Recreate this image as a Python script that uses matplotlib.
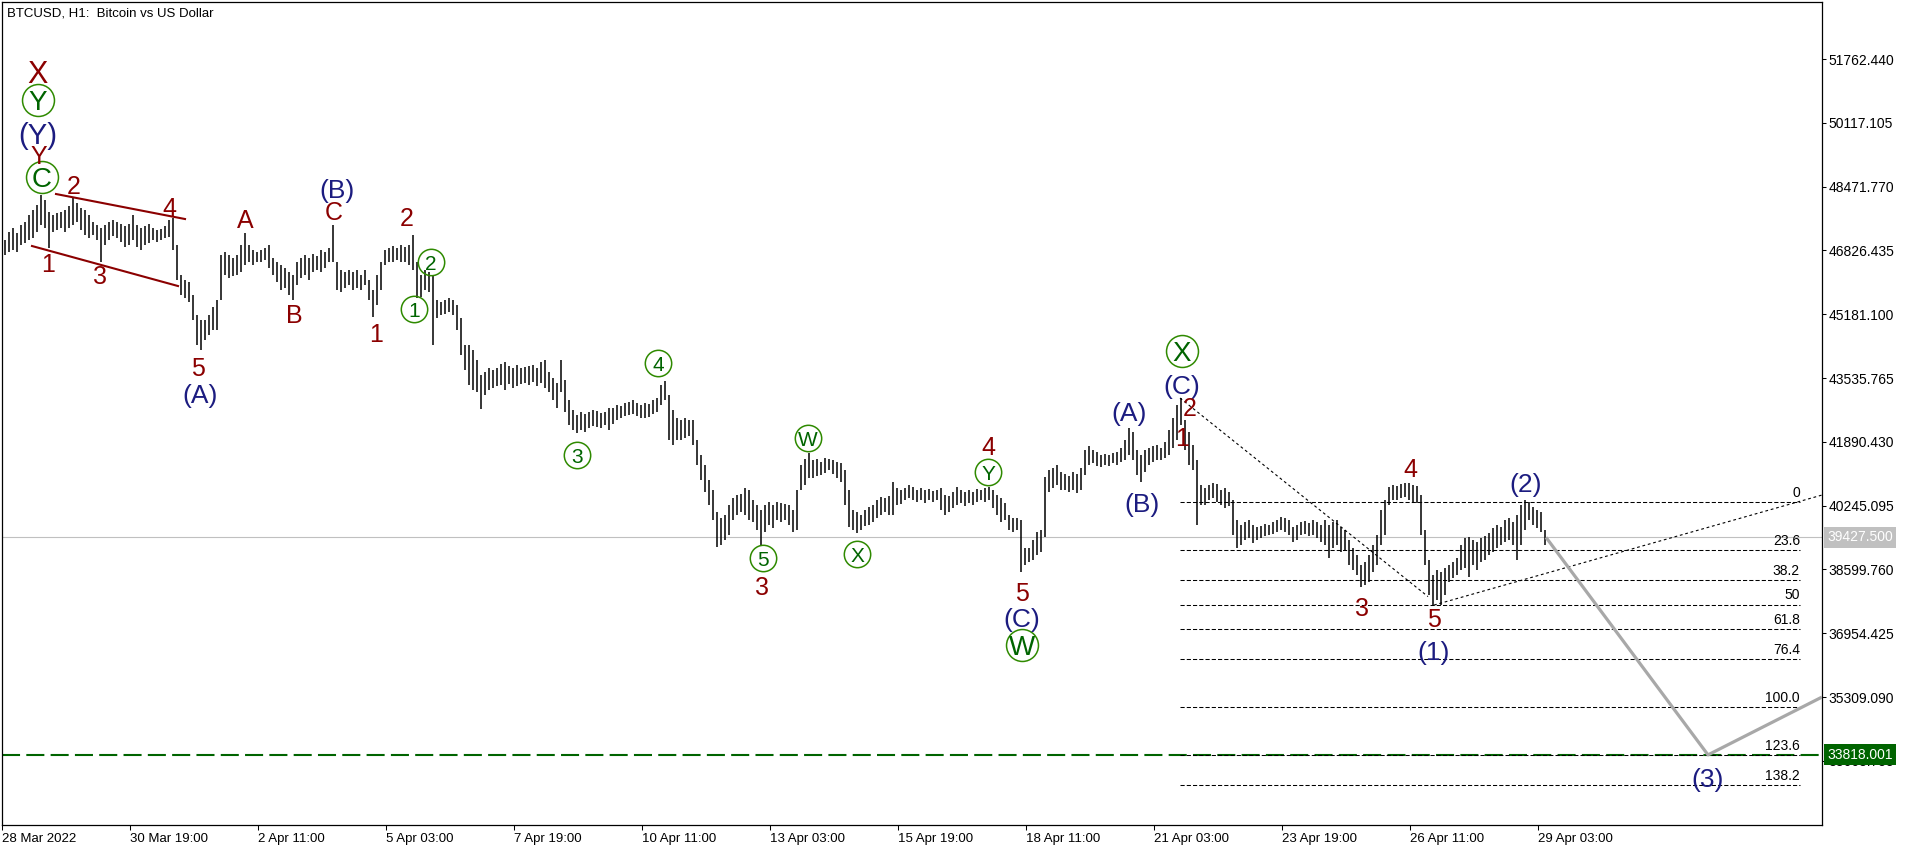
#####################################################################
# BTCUSD H1 - Elliott wave count, bar chart in MetaTrader style     #
#####################################################################
import numpy as np
import pandas as pd
import matplotlib
matplotlib.use('Agg')
from matplotlib import pyplot as plt
from matplotlib import transforms


#######################################################################
# Donnees (barres de 2 heures, prix haut / bas) :
T0 = pd.Timestamp('2022-03-28 00:00')
BAR_START = '2022-03-28 04:00'

highs = [
    47094, 47300, 47404, 47275, 47481, 47558, 47739, 47868, 47997, 48255,
    48126, 47816, 47739, 47791, 47816, 47868, 47971, 48178, 48049, 47920,
    47868, 47739, 47558, 47481, 47404, 47481, 47558, 47610, 47558, 47507,
    47455, 47507, 47739, 47481, 47404, 47455, 47507, 47404, 47352, 47378,
    47455, 47610, 47662, 46965, 46191, 46062, 46010, 45675, 45160, 45031,
    45031, 45160, 45366, 45546, 46707, 46784, 46707, 46630, 46707, 46965,
    47275, 46965, 46836, 46784, 46836, 46888, 46965, 46630, 46526, 46449,
    46372, 46268, 46191, 46526, 46630, 46707, 46630, 46733, 46681, 46836,
    46784, 46888, 47481, 46526, 46320, 46268, 46320, 46268, 46320, 46191,
    46320, 46062, 45804, 46191, 46526, 46836, 46888, 46939, 46888, 46965,
    46913, 46965, 47223, 46526, 46191, 46320, 46268, 46191, 45546, 45494,
    45546, 45598, 45546, 45418, 45083, 44386, 44386, 44257, 43999, 43612,
    43690, 43793, 43741, 43793, 43896, 43947, 43844, 43793, 43870, 43793,
    43818, 43844, 43870, 43793, 43947, 43999, 43690, 43535, 43406, 43999,
    43483, 42968, 42710, 42581, 42658, 42607, 42658, 42710, 42684, 42633,
    42658, 42762, 42762, 42839, 42813, 42891, 42916, 42968, 42891, 42839,
    42891, 42865, 42968, 43020, 43354, 43458, 43097, 42710, 42504, 42452,
    42504, 42452, 42452, 41936, 41549, 41291, 40905, 40647, 40079, 39925,
    40002, 40260, 40441, 40518, 40544, 40699, 40647, 40389, 40260, 40131,
    40260, 40337, 40260, 40337, 40312, 40286, 40260, 40131, 40647, 41291,
    41446, 41601, 41420, 41446, 41368, 41472, 41446, 41420, 41368, 41343,
    41162, 40647, 40131, 40079, 40002, 40131, 40209, 40260, 40389, 40466,
    40441, 40492, 40853, 40699, 40647, 40699, 40776, 40724, 40647, 40699,
    40647, 40673, 40621, 40647, 40699, 40518, 40492, 40595, 40724, 40647,
    40595, 40647, 40595, 40673, 40647, 40699, 40724, 40647, 40518, 40441,
    40312, 40002, 39925, 39925, 39873, 39151, 39151, 39357, 39564, 39615,
    40982, 41162, 41214, 41291, 41111, 41059, 41008, 41111, 41059, 41214,
    41678, 41781, 41678, 41626, 41549, 41575, 41549, 41601, 41626, 41730,
    41936, 42246, 42143, 41678, 41549, 41678, 41730, 41781, 41807, 41730,
    41884, 42194, 42504, 42839, 43020, 42452, 42143, 41807, 41420, 40776,
    40699, 40776, 40827, 40802, 40647, 40699, 40595, 40389, 39873, 39744,
    39822, 39873, 39744, 39693, 39718, 39770, 39744, 39822, 39873, 39951,
    39925, 39873, 39693, 39744, 39822, 39848, 39796, 39873, 39822, 39744,
    39873, 39744, 39822, 39873, 39693, 39615, 39357, 39151, 38970, 38713,
    38790, 38970, 39228, 39486, 40131, 40389, 40724, 40776, 40750, 40802,
    40827, 40827, 40776, 40750, 40518, 39615, 38842, 38455, 38584, 38532,
    38635, 38713, 38790, 38893, 39228, 39409, 39434, 39357, 39306, 39409,
    39460, 39538, 39667, 39744, 39693, 39873, 39925, 39822, 40002, 40260,
    40389, 40337, 40209, 40131, 40079, 39615,
]

lows = [
    46707, 46784, 46836, 46784, 46965, 47017, 47094, 47146, 47300, 47481,
    47404, 46888, 47300, 47352, 47404, 47300, 47404, 47481, 47558, 47352,
    47223, 47146, 47223, 47094, 46526, 46965, 47094, 47197, 47146, 47042,
    46913, 46965, 47094, 46913, 46836, 46965, 47017, 47094, 47042, 47094,
    47146, 47171, 46836, 46062, 45675, 45598, 45494, 45031, 44386, 44257,
    44515, 44644, 44773, 44773, 45546, 46191, 46114, 46165, 46191, 46268,
    46449, 46526, 46449, 46526, 46526, 46578, 46372, 46191, 46010, 45804,
    45856, 45675, 45546, 45933, 46114, 46191, 46062, 46268, 46320, 46268,
    46372, 46526, 46526, 45804, 45752, 45856, 45933, 45804, 45856, 45804,
    45933, 45546, 45108, 45418, 45804, 46449, 46526, 46526, 46578, 46526,
    46526, 46449, 46320, 45598, 45624, 45804, 45752, 44386, 45083, 45160,
    45186, 45237, 45160, 44773, 44128, 43741, 43354, 43226, 43174, 42736,
    43097, 43226, 43277, 43329, 43354, 43226, 43380, 43277, 43329, 43380,
    43406, 43354, 43432, 43329, 43406, 43277, 43174, 42968, 42762, 43174,
    42658, 42323, 42194, 42117, 42194, 42143, 42246, 42297, 42271, 42246,
    42323, 42194, 42349, 42452, 42504, 42555, 42581, 42607, 42555, 42504,
    42504, 42530, 42607, 42658, 42839, 42968, 41936, 41807, 41936, 41936,
    41987, 42039, 41807, 41291, 40905, 40595, 40260, 39873, 39177, 39228,
    39357, 39486, 39873, 40002, 40079, 40002, 39873, 39822, 39615, 39228,
    39564, 39744, 39667, 39873, 39822, 39873, 39744, 39564, 39615, 40647,
    40776, 40957, 40957, 41008, 41034, 41085, 41162, 41059, 40957, 40853,
    40260, 39693, 39615, 39538, 39615, 39718, 39744, 39822, 39925, 40002,
    40079, 40002, 40002, 40260, 40286, 40389, 40441, 40389, 40337, 40389,
    40312, 40389, 40337, 40389, 40131, 40002, 40079, 40183, 40260, 40312,
    40234, 40312, 40260, 40337, 40389, 40337, 40389, 40183, 40002, 39822,
    39873, 39615, 39564, 39615, 38532, 38713, 38790, 38842, 38970, 39048,
    39434, 40595, 40699, 40776, 40647, 40647, 40595, 40647, 40570, 40647,
    41034, 41291, 41343, 41265, 41240, 41291, 41265, 41343, 41291, 41368,
    41420, 41549, 41420, 41034, 40853, 41111, 41291, 41368, 41420, 41420,
    41472, 41549, 41730, 41936, 42323, 41678, 41291, 41162, 39744, 40260,
    40260, 40389, 40441, 40337, 40260, 40183, 40234, 39486, 39151, 39228,
    39357, 39409, 39280, 39357, 39409, 39460, 39486, 39512, 39564, 39615,
    39564, 39486, 39306, 39357, 39486, 39512, 39460, 39486, 39409, 39306,
    39228, 38893, 39151, 39228, 39048, 39099, 38713, 38584, 38455, 38145,
    38197, 38274, 38532, 38713, 39228, 39486, 40260, 40389, 40389, 40441,
    40466, 40389, 40337, 40312, 39486, 38713, 37939, 37681, 37810, 37681,
    37939, 38274, 38378, 38455, 38584, 38635, 38403, 38713, 38584, 38790,
    38842, 38970, 39048, 39151, 39228, 39306, 39357, 39228, 38842, 39228,
    39615, 39873, 39744, 39667, 39564, 39228,
]

current_price = 39427.5
target_price = 33818.001

# echelle de prix (droite) :
y_ticks = [51762.440, 50117.105, 48471.770, 46826.435, 45181.100, 43535.765,
           41890.430, 40245.095, 38599.760, 36954.425, 35309.090, 33663.755]
y_range = (32009.6, 53232.3)

# echelle de temps (bas) :
x_tick_times = ['2022-03-28 03:00', '2022-03-30 19:00', '2022-04-02 11:00',
                '2022-04-05 03:00', '2022-04-07 19:00', '2022-04-10 11:00',
                '2022-04-13 03:00', '2022-04-15 19:00', '2022-04-18 11:00',
                '2022-04-21 03:00', '2022-04-23 19:00', '2022-04-26 11:00',
                '2022-04-29 03:00']
x_tick_labels = ['28 Mar 2022', '30 Mar 19:00', '2 Apr 11:00', '5 Apr 03:00',
                 '7 Apr 19:00', '10 Apr 11:00', '13 Apr 03:00',
                 '15 Apr 19:00', '18 Apr 11:00', '21 Apr 03:00',
                 '23 Apr 19:00', '26 Apr 11:00', '29 Apr 03:00']
x_range = ('2022-03-28 03:00', '2022-05-05 01:00')

# niveaux de Fibonacci :
fib_levels = [0, 23.6, 38.2, 50, 61.8, 76.4, 100.0, 123.6, 138.2]
fib_texts = ['0', '23.6', '38.2', '50', '61.8', '76.4', '100.0', '123.6',
             '138.2']
fib_price_0 = 40337
fib_price_100 = 35050
fib_span = ('2022-04-21 16:00', '2022-05-04 14:00')

# lignes tracees (temps, prix) :
projection = [('2022-04-29 07:00', current_price),
              ('2022-05-02 16:00', target_price),
              ('2022-05-05 01:00', 35309.09)]
trend_down = [('2022-04-21 16:00', 43020), ('2022-04-26 20:00', 37900)]
trend_up = [('2022-04-26 23:00', 37681), ('2022-05-05 01:00', 40518)]
channel_top = [('2022-03-29 06:00', 48281), ('2022-03-31 22:30', 47636)]
channel_bottom = [('2022-03-28 18:00', 46940), ('2022-03-31 19:00', 45908)]

# etiquettes de vagues (heure depuis le 28 Mar 00:00, prix, texte, style) :
wave_labels = [
    (20.5, 51427, 'X', 'red_big'),
    (21.0, 50705, 'Y', 'circle_big'),
    (21.5, 49287, 'Y', 'red'),
    (21.0, 49854, '(Y)', 'navy_big'),
    (23.0, 48719, 'C', 'circle_big'),
    (39.0, 48513, '2', 'red'),
    (26.0, 46501, '1', 'red'),
    (52.0, 46192, '3', 'red'),
    (86.5, 47945, '4', 'red'),
    (101.0, 43819, '5', 'red'),
    (102.0, 43149, '(A)', 'navy'),
    (124.5, 47636, 'A', 'red'),
    (149.0, 45186, 'B', 'red'),
    (170.5, 48435, '(B)', 'navy'),
    (169.0, 47842, 'C', 'red'),
    (190.0, 44696, '1', 'red'),
    (205.5, 47688, '2', 'red'),
    (209.0, 45315, '1', 'circle'),
    (217.5, 46527, '2', 'circle'),
    (290.5, 41550, '3', 'circle'),
    (331.0, 43922, '4', 'circle'),
    (406.0, 41988, 'W', 'circle'),
    (383.5, 38893, '5', 'circle'),
    (383.0, 38171, '3', 'red'),
    (430.5, 38996, 'X', 'circle'),
    (496.0, 41782, '4', 'red'),
    (496.0, 41111, 'Y', 'circle'),
    (513.0, 38016, '5', 'red'),
    (513.0, 37372, '(C)', 'navy'),
    (513.0, 36649, 'W', 'circle_big'),
    (566.5, 42684, '(A)', 'navy'),
    (573.0, 40337, '(B)', 'navy'),
    (593.0, 44232, 'X', 'circle_big'),
    (593.0, 43381, '(C)', 'navy'),
    (597.0, 42787, '2', 'red'),
    (593.0, 42014, '1', 'red'),
    (683.0, 37629, '3', 'red'),
    (707.0, 41214, '4', 'red'),
    (719.0, 37346, '5', 'red'),
    (719.0, 36520, '(1)', 'navy'),
    (765.0, 40853, '(2)', 'navy'),
    (856.0, 33245, '(3)', 'navy'),
]

RED = '#8b0000'
NAVY = '#1c1c80'
GREEN = '#006400'
RING = '#2f8a00'
SANS = ['Liberation Sans', 'DejaVu Sans']
NARROW = ['Liberation Sans Narrow', 'Liberation Sans', 'DejaVu Sans']


#######################################################################
# definitions locales de fonctions :
def hours(ts):
    """Heures ecoulees depuis le debut du graphique."""
    return (pd.to_datetime(ts) - T0) / pd.Timedelta(hours=1)


def line_xy(points):
    """Convertit une liste (temps, prix) en deux tableaux x, y."""
    xs = [hours(t) for t, _ in points]
    ys = [p for _, p in points]
    return xs, ys


def put_label(ax, h, price, text, style):
    """Place une etiquette de vague, centree sur (h, prix)."""
    styles = {
        'red': (RED, 18), 'red_big': (RED, 22),
        'navy': (NAVY, 19), 'navy_big': (NAVY, 21),
        'circle': (GREEN, 15), 'circle_big': (GREEN, 20),
    }
    color, size = styles[style]
    if style.startswith('circle'):
        ring = 19 if style == 'circle' else 23
        ax.plot([h], [price], 'o', ms=ring, mfc='none', mec=RING, mew=1.1,
                zorder=5)
    ax.annotate(text, (h, price), xytext=(0, -0.36 * size),
                textcoords='offset points', ha='center', va='baseline',
                color=color, fontsize=size, family=SANS, zorder=6)


def main() -> int:
    plt.rcParams['lines.scale_dashes'] = False

    fig = plt.figure(figsize=(19.16, 8.52), dpi=100)
    ax = fig.add_axes([2 / 1916, 27 / 852, 1820 / 1916, 823 / 852])

    # barres de prix :
    bar_times = pd.date_range(BAR_START, periods=len(highs), freq='2h')
    bar_x = hours(bar_times) + 0.5
    ax.vlines(bar_x, lows, highs, color='black', linewidth=1.1, zorder=3)

    # prix courant et objectif :
    ax.axhline(current_price, color='#c0c0c0', linewidth=0.8, zorder=1)
    ax.axhline(target_price, color=GREEN, linewidth=1.5, dashes=(13, 4.5),
               zorder=2)

    # Fibonacci :
    fx0, fx1 = hours(fib_span[0]), hours(fib_span[1])
    for lvl, txt in zip(fib_levels, fib_texts):
        price = fib_price_0 - (fib_price_0 - fib_price_100) * lvl / 100
        ax.plot([fx0, fx1], [price, price], color='black', linewidth=0.75,
                dashes=(3, 1.5), zorder=2)
        ax.annotate(txt, (fx1, price), xytext=(0, 1.5),
                    textcoords='offset points', ha='right', va='bottom',
                    fontsize=10, family=SANS, color='black')

    # lignes de tendance pointillees :
    for pts in (trend_down, trend_up):
        xs, ys = line_xy(pts)
        ax.plot(xs, ys, color='black', linewidth=0.8, dashes=(2, 2),
                zorder=2)

    # canal rouge :
    for pts in (channel_top, channel_bottom):
        xs, ys = line_xy(pts)
        ax.plot(xs, ys, color=RED, linewidth=1.5, zorder=4)

    # projection grise :
    xs, ys = line_xy(projection)
    ax.plot(xs, ys, color='#a8a8a8', linewidth=2.3, solid_capstyle='butt',
            zorder=4)

    # etiquettes de vagues :
    for h, price, text, style in wave_labels:
        put_label(ax, h, price, text, style)

    # axes :
    ax.set_xlim(hours(x_range[0]), hours(x_range[1]))
    ax.set_ylim(*y_range)
    ax.yaxis.tick_right()
    ax.set_yticks(y_ticks)
    ax.set_yticklabels([f'{v:.3f}' for v in y_ticks], family=SANS)
    ax.set_xticks([hours(t) for t in x_tick_times])
    ax.set_xticklabels(x_tick_labels, family=NARROW)
    for lbl in ax.get_xticklabels():
        lbl.set_horizontalalignment('left')
    ax.tick_params(axis='y', direction='out', length=3, width=0.75,
                   pad=1.5, labelsize=10, colors='black')
    ax.tick_params(axis='x', direction='out', length=3.5, width=0.75,
                   pad=2, labelsize=9.5, colors='black')
    for spine in ax.spines.values():
        spine.set_linewidth(0.9)
        spine.set_color('black')

    # boites de prix sur l'echelle :
    trans = transforms.blended_transform_factory(ax.transAxes, ax.transData)
    for price, bg in ((current_price, '#c0c0c0'), (target_price, GREEN)):
        ax.text(1.0 + 5 / 1820, price, f'{price:.3f}', transform=trans,
                ha='left', va='center', color='white', fontsize=10,
                family=SANS, clip_on=False, zorder=8,
                bbox=dict(boxstyle='square,pad=0.25', fc=bg, ec='none'))

    # titre du graphique :
    fig.text(7 / 1916, 1 - 13 / 852, 'BTCUSD, H1:  Bitcoin vs US Dollar',
             ha='left', va='center', fontsize=9.5, family=SANS,
             color='black')

    fig.savefig('out.png', dpi=100, facecolor='white')
    return 0


#######################################################################
if __name__ == "__main__":
    main()
